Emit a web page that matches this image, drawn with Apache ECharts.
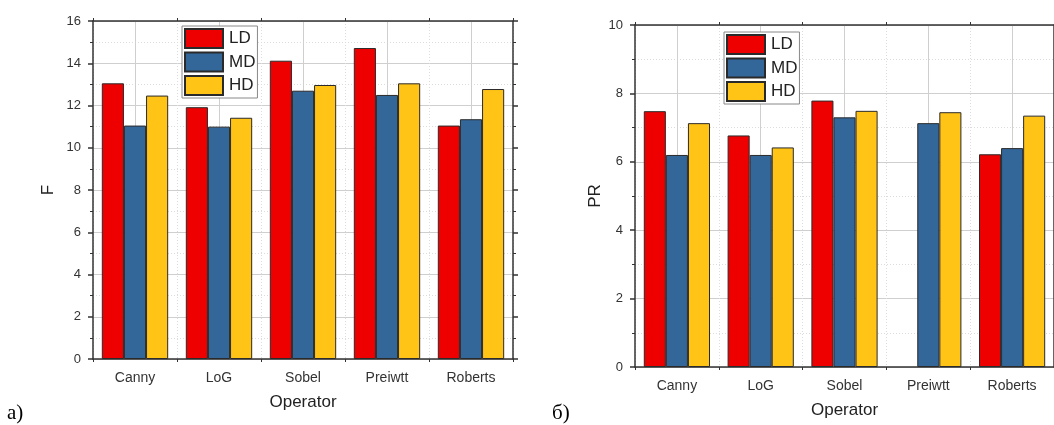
<!DOCTYPE html>
<html><head><meta charset="utf-8">
<script src="https://cdn.jsdelivr.net/npm/echarts@6/dist/echarts.min.js"></script>
<style>html,body{margin:0;padding:0;background:#fff}#c{width:1054px;height:425px}</style>
</head><body><div id="c"></div>
<script>
const categories = ['Canny', 'LoG', 'Sobel', 'Preiwtt', 'Roberts'];
const seriesNames = ['LD', 'MD', 'HD'];
const fLD = [13.05, 11.92, 14.12, 14.72, 11.05];
const fMD = [11.05, 11.0, 12.7, 12.5, 11.35];
const fHD = [12.47, 11.42, 12.97, 13.05, 12.78];
const prLD = [7.48, 6.77, 7.79, null, 6.22];
const prMD = [6.2, 6.2, 7.3, 7.13, 6.4];
const prHD = [7.13, 6.42, 7.49, 7.45, 7.35];
const fAxis = {min: 0, max: 16, interval: 2, name: 'F'};
const prAxis = {min: 0, max: 10, interval: 2, name: 'PR'};
const xName = 'Operator';
const panelLabels = ['а)', 'б)'];

const colors = ['#EE0000', '#336699', '#FFC416'];
const FONT = 'Liberation Sans, Arial, sans-serif';
const AX = '#333';
const GRIDC = '#cfcfcf';
const MINC = '#dcdcdc';

const grids = [
  {left: 93, top: 21, width: 420, height: 338},
  {left: 635, top: 25, width: 423, height: 342}
];
const yNameGaps = [36, 31];
const xAxes = [], yAxes = [], series = [];

function build(gi, yConf, dataSets) {
  const n = categories.length;
  const base = xAxes.length;
  xAxes.push({gridIndex: gi, type: 'category', data: categories, position: 'bottom',
    axisLine: {onZero: false, lineStyle: {color: AX, width: 1.5}},
    axisTick: {alignWithLabel: true, length: 5, lineStyle: {color: AX, width: 1.5}},
    axisLabel: {margin: 12, fontSize: 14, color: '#333', fontFamily: FONT},
    splitLine: {show: false},
    name: xName, nameLocation: 'middle', nameGap: 35,
    nameTextStyle: {fontSize: 17, color: '#222', fontFamily: FONT}});
  xAxes.push({gridIndex: gi, type: 'category', data: categories, position: 'top',
    axisLine: {onZero: false, lineStyle: {color: AX, width: 1.5}},
    axisTick: {alignWithLabel: true, length: 5, lineStyle: {color: AX, width: 1.5}},
    axisLabel: {show: false}, splitLine: {show: false}});
  xAxes.push({gridIndex: gi, type: 'value', position: 'bottom', min: 0, max: 2 * n, interval: 2,
    axisLine: {show: false, onZero: false}, axisLabel: {show: false},
    axisTick: {show: true, length: 3, lineStyle: {color: AX, width: 1}},
    splitLine: {show: true, lineStyle: {color: MINC, type: [1, 2], width: 1}}});
  xAxes.push({gridIndex: gi, type: 'value', position: 'top', min: 0, max: 2 * n, interval: 2,
    axisLine: {show: false, onZero: false}, axisLabel: {show: false},
    axisTick: {show: true, length: 3, lineStyle: {color: AX, width: 1}},
    splitLine: {show: false}});
  xAxes.push({gridIndex: gi, type: 'value', position: 'top', min: 0, max: 2 * n, interval: 1,
    axisLine: {show: false, onZero: false}, axisLabel: {show: false}, axisTick: {show: false},
    splitLine: {show: true, lineStyle: {color: ['rgba(0,0,0,0)', GRIDC], width: 1}}});
  const yBase = yAxes.length;
  yAxes.push({gridIndex: gi, type: 'value', position: 'left', min: yConf.min, max: yConf.max, interval: yConf.interval,
    axisLine: {show: true, onZero: false, lineStyle: {color: AX, width: 1.5}},
    axisTick: {show: true, length: 5, lineStyle: {color: AX, width: 1.5}},
    minorTick: {show: true, splitNumber: 2, length: 3, lineStyle: {color: AX, width: 1}},
    axisLabel: {margin: 12, fontSize: 13, color: '#333', fontFamily: FONT},
    splitLine: {show: true, lineStyle: {color: GRIDC, width: 1}},
    minorSplitLine: {show: true, lineStyle: {color: MINC, type: [1, 2], width: 1}},
    name: yConf.name, nameLocation: 'middle', nameGap: yNameGaps[gi],
    nameTextStyle: {fontSize: 17, color: '#222', fontFamily: FONT}});
  yAxes.push({gridIndex: gi, type: 'value', position: 'right', min: yConf.min, max: yConf.max, interval: yConf.interval,
    axisLine: {show: true, onZero: false, lineStyle: {color: AX, width: 1.5}},
    axisTick: {show: true, length: 5, lineStyle: {color: AX, width: 1.5}},
    minorTick: {show: true, splitNumber: 2, length: 3, lineStyle: {color: AX, width: 1}},
    axisLabel: {show: false}, splitLine: {show: false}});
  dataSets.forEach((d, k) => {
    series.push({type: 'bar', name: seriesNames[k], xAxisIndex: base, yAxisIndex: yBase,
      data: d, barGap: '0%', barCategoryGap: '21%',
      itemStyle: {color: colors[k], borderColor: '#2a2a2a', borderWidth: 1},
      emphasis: {disabled: true}, animation: false});
  });
}
build(0, fAxis, [fLD, fMD, fHD]);
build(1, prAxis, [prLD, prMD, prHD]);

const legendCommon = {orient: 'vertical', itemWidth: 38, itemHeight: 19, itemGap: 2.5,
  icon: 'rect', padding: [2, 2, 2, 2], backgroundColor: '#fff', borderColor: '#888', borderWidth: 1,
  textStyle: {fontSize: 17, color: '#222', fontFamily: FONT, padding: [0, 0, 0, 1]},
  data: seriesNames, selectedMode: false};

const chart = echarts.init(document.getElementById('c'), null, {renderer: 'canvas'});
chart.setOption({
  animation: false,
  grid: grids,
  xAxis: xAxes,
  yAxis: yAxes,
  series: series,
  legend: [
    Object.assign({left: 182, top: 26}, legendCommon),
    Object.assign({left: 724, top: 32}, legendCommon)
  ],
  graphic: [
    {type: 'text', left: 7, top: 403, style: {text: panelLabels[0], font: '21px "Liberation Serif", "Times New Roman", serif', fill: '#000'}},
    {type: 'text', left: 552, top: 403, style: {text: panelLabels[1], font: '21px "Liberation Serif", "Times New Roman", serif', fill: '#000'}}
  ]
});
</script></body></html>
